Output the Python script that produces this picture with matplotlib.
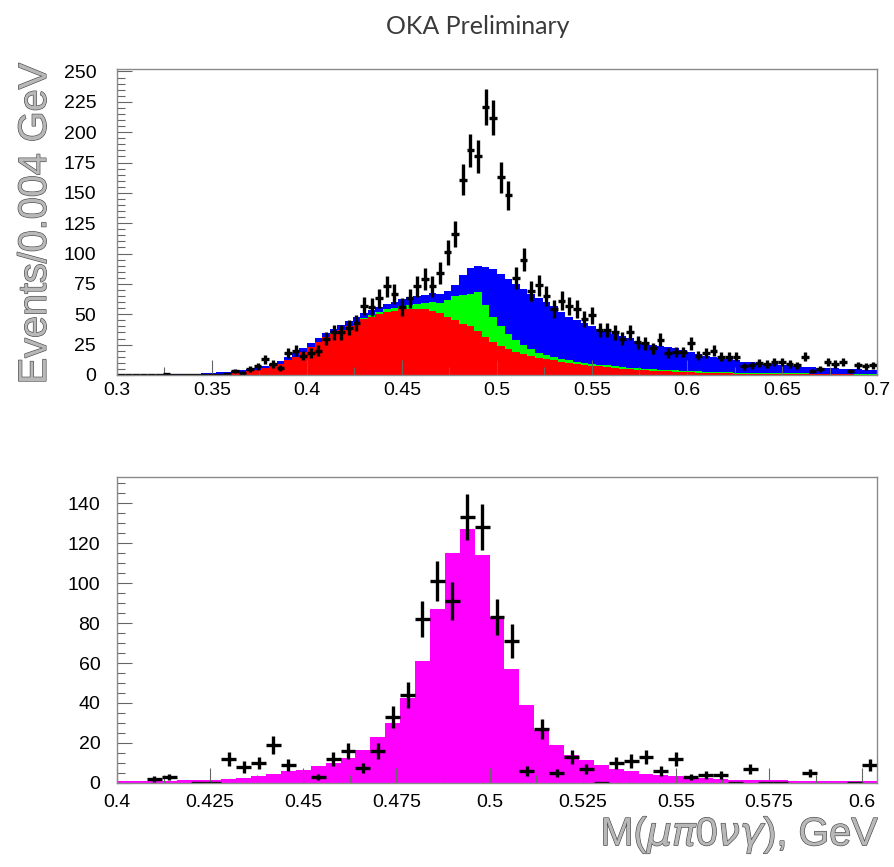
import numpy as np
import matplotlib.pyplot as plt
from matplotlib.ticker import MultipleLocator, FuncFormatter
import matplotlib.patheffects as pe

# ---- upper plot: M(mu pi0 nu gamma) data and stacked background, 0.004 GeV bins
top_edges = np.linspace(0.3, 0.7, 101)

top_data = [0, 0, 0, 0, 0, 0, 1, 0, 0, 0,
            0, 0, 0, 0, 1, 3, 2, 5, 7, 13,
            9, 6, 18, 20, 16, 18, 20, 30, 35, 35,
            39, 43, 57, 56, 63, 73, 67, 56, 63, 73,
            79, 73, 84, 101, 116, 161, 185, 180, 221, 212,
            163, 148, 80, 95, 69, 74, 65, 54, 61, 57,
            54, 46, 49, 37, 37, 35, 30, 35, 27, 26,
            22, 29, 18, 19, 19, 26, 16, 18, 20, 15,
            15, 15, 7, 8, 10, 9, 11, 11, 9, 8,
            15, 3, 5, 11, 9, 11, 3, 8, 7, 8]

red = [0.0, 0.0, 0.0, 0.0, 0.0, 0.1, 0.1, 0.1, 0.2, 0.2,
       0.3, 0.3, 0.5, 0.8, 1.2, 1.8, 2.5, 3.5, 4.5, 5.5,
       7, 9, 12, 15, 19, 23, 27, 31, 34, 37,
       40, 43, 46, 48, 50, 52, 53, 54, 54.5, 54.5,
       54, 53, 51, 48, 45, 42, 40, 36, 31, 27,
       24, 21, 19, 17, 15.5, 14, 13, 12, 11, 10,
       9, 8.3, 7.6, 7, 6.4, 5.8, 5.3, 4.8, 4.4, 4,
       3.6, 3.3, 3, 2.7, 2.4, 2.2, 2, 1.8, 1.6, 1.4,
       1.3, 1.2, 1.1, 1.0, 0.9, 0.8, 0.8, 0.7, 0.7, 0.6,
       0.6, 0.5, 0.5, 0.5, 0.4, 0.4, 0.4, 0.3, 0.3, 0.3]

green = [0.0] * 20 + [0.2] * 10 + \
        [0.5, 0.7, 1, 1.2, 1.5, 2, 2.5, 3, 3.5, 4,
         5, 7, 8, 14, 20, 24, 27, 32, 27, 21,
         16, 13, 10, 8, 6, 4.5, 3.5, 3, 2.5, 2.2,
         2, 1.8, 1.7, 1.6, 1.5, 1.5, 1.4, 1.3, 1.3, 1.2,
         1.2, 1.1, 1.1, 1.0, 1.0, 1.0, 0.9, 0.9, 0.9, 0.9,
         0.8, 0.8, 0.8, 0.8, 0.8, 0.7, 0.7, 0.7, 0.7, 0.7,
         0.7, 0.6, 0.6, 0.6, 0.6, 0.6, 0.6, 0.6, 0.6, 0.6]

blue = [0.3, 0.3, 0.3, 0.3, 0.3, 0.2, 0.4, 0.5, 0.6, 0.8,
        0.9, 1.2, 1.3, 1.4, 1.5, 1.4, 1.5, 1.5, 1.5, 2.0,
        2.0, 2.2, 2.4, 2.6, 2.8, 3.0, 3.2, 3.4, 3.6, 3.8,
        4, 4, 4, 4.2, 4.5, 4.8, 5, 5.5, 6, 6.5,
        7, 7.5, 8, 7, 9, 16, 21, 22, 31, 39,
        43, 45, 46, 46, 45.5, 45, 44, 42, 38.5, 35.8,
        34, 33, 31, 29.5, 28, 26.7, 25.3, 24, 22.3, 21.3,
        20.2, 19.6, 18.9, 18.3, 17.1, 15.8, 14.6, 13.3, 12.5, 11.7,
        10.9, 10.0, 9.1, 8.7, 8.3, 7.9, 7.4, 7.0, 6.5, 6.1,
        5.6, 5.2, 4.9, 4.7, 4.5, 4.2, 3.9, 3.7, 3.4, 3.2]

# ---- lower plot: background-subtracted signal vs MC (magenta)
bot_edges = np.linspace(0.4, 0.604, 52)

bot_data = [np.nan, np.nan, 2, 3, np.nan, 0, 0, 12, 8, 10,
            19, 9, np.nan, 3, 12, 16, 7.5, 16, 33, 44,
            82, 101, 91, 133, 128, 83, 71, 6, 27, 5,
            13, 7, 0, 10, 11, 13, 6, 12, 3, 4,
            4, 0, 7, 0, 0, np.nan, 5, np.nan, np.nan, 0,
            9]

magenta = [1, 1, 1.2, 1.2, 1.5, 1.7, 1.7, 2.2, 2.5, 3.7,
           4.7, 5.8, 6.7, 8.3, 10, 12.5, 16.7, 23, 30, 42.5,
           61, 87, 115, 127, 114, 83, 57, 39, 26.7, 19,
           14, 11.3, 9, 7, 5.8, 4.7, 3.8, 3.3, 2.8, 2.3,
           2, 1.7, 1.7, 1.3, 1.3, 1.0, 0.8, 0.8, 0.8, 0.8,
           0.8]

top_ticks = [0.3, 0.35, 0.4, 0.45, 0.5, 0.55, 0.6, 0.65, 0.7]
bot_ticks = [0.4, 0.425, 0.45, 0.475, 0.5, 0.525, 0.55, 0.575, 0.6]

plt.rcParams['font.family'] = ['Liberation Sans', 'DejaVu Sans']
plt.rcParams['mathtext.fontset'] = 'dejavusans'

fig = plt.figure(figsize=(8.95, 8.67), dpi=100)
ax1 = fig.add_axes([0.1307, 0.5675, 0.8492, 0.3529])
ax2 = fig.add_axes([0.1307, 0.0969, 0.8492, 0.3529])

lab = lambda v, p: '%g' % v


def style(ax, xmaj, xmin, ymaj, ymin, xpad, ypad):
    for s in ax.spines.values():
        s.set_color('#8a8a8a')
        s.set_linewidth(1.0)
    ax.xaxis.set_major_locator(MultipleLocator(xmaj))
    ax.xaxis.set_minor_locator(MultipleLocator(xmin))
    ax.yaxis.set_major_locator(MultipleLocator(ymaj))
    ax.yaxis.set_minor_locator(MultipleLocator(ymin))
    ax.xaxis.set_major_formatter(FuncFormatter(lab))
    ax.tick_params(which='both', direction='in', color='#666666', width=0.8,
                   top=False, right=False, labelsize=14)
    ax.tick_params(which='major', length=11)
    ax.tick_params(which='minor', length=5.5)
    ax.tick_params(axis='x', pad=xpad)
    ax.tick_params(axis='y', pad=ypad)


# upper panel
cum1 = np.array(red)
cum2 = cum1 + np.array(green)
cum3 = cum2 + np.array(blue)
ax1.stairs(cum3, top_edges, fill=True, color='#0000ff', lw=0)
ax1.stairs(cum2, top_edges, fill=True, color='#00ff00', lw=0)
ax1.stairs(cum1, top_edges, fill=True, color='#ff0000', lw=0)

tc = 0.5 * (top_edges[:-1] + top_edges[1:])
td = np.array(top_data, dtype=float)
ax1.errorbar(tc, td, yerr=np.sqrt(td), xerr=0.002, fmt='none',
             ecolor='black', elinewidth=2.4, capsize=0)
ax1.set_xlim(0.3, 0.7)
ax1.set_ylim(0, 252)
ax1.set_xticks(top_ticks)
style(ax1, 0.05, 0.025, 25, 5, 5, 15)

# lower panel
ax2.stairs(magenta, bot_edges, fill=True, color='#ff00ff', lw=0)
bc = 0.5 * (bot_edges[:-1] + bot_edges[1:])
bd = np.array(bot_data, dtype=float)
ok = ~np.isnan(bd)
ax2.errorbar(bc[ok], bd[ok], yerr=np.sqrt(bd[ok]), xerr=0.002, fmt='none',
             ecolor='black', elinewidth=2.4, capsize=0)
ax2.set_xlim(0.4, 0.604)
ax2.set_ylim(0, 153)
ax2.set_xticks(bot_ticks)
style(ax2, 0.025, 0.0125, 20, 5, 8, 12)

outline = [pe.Stroke(linewidth=0.9, foreground='#4a4a4a'), pe.Normal()]

fig.text(0.534, 0.969, 'OKA Preliminary', ha='center', va='center',
         fontsize=18, color='#3a3a3a', family='Lato')
fig.text(0.039, 0.742, 'Events/0.004 GeV', rotation=90, ha='center', va='center',
         fontsize=28.5, color='#b8b8b8', path_effects=outline)
fig.text(0.983, 0.037, r'M($\mu\pi$0$\nu\gamma$), GeV', ha='right', va='center',
         fontsize=28.5, color='#b8b8b8', path_effects=outline)

fig.savefig('out.png', dpi=100)
